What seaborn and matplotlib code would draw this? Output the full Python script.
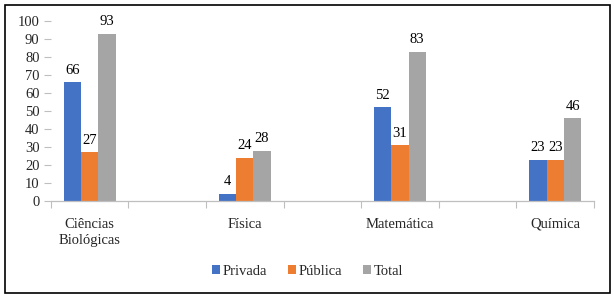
import matplotlib
matplotlib.use("Agg")
import matplotlib.pyplot as plt
import seaborn as sns
import pandas as pd
import numpy as np
from matplotlib.patches import Rectangle

categories = ["Ciências\nBiológicas", "Física", "Matemática", "Química"]
series = ["Privada", "Pública", "Total"]
privada = [66, 4, 52, 23]
publica = [27, 24, 31, 23]
total = [93, 28, 83, 46]
colors = ["#4472C4", "#ED7D31", "#A5A5A5"]

# blank spacer categories between the real ones (as in the original layout)
order = [categories[0], " ", categories[1], "  ", categories[2], "   ", categories[3]]

rows = []
for s, vals in zip(series, [privada, publica, total]):
    for c, v in zip(categories, vals):
        rows.append({"cat": c, "serie": s, "valor": v})
df = pd.DataFrame(rows)

sns.set_theme(style="white")
plt.rcParams["font.family"] = ["Liberation Serif", "DejaVu Serif"]

FS = 10.5

fig = plt.figure(figsize=(6.14, 2.96), dpi=100)
ax = fig.add_axes([50.7 / 614, 1 - 201 / 296, (594 - 50.7) / 614, (201 - 21) / 296])

sns.barplot(data=df, x="cat", y="valor", hue="serie", order=order,
            hue_order=series, palette=colors, width=0.67, gap=0,
            saturation=1, ax=ax, errorbar=None, legend=True, linewidth=0)

for cont in ax.containers:
    ax.bar_label(cont, padding=4, fontsize=FS, color="#000000")

ax.set_ylim(0, 100)
ax.set_yticks(np.arange(0, 101, 10))
ax.set_xlim(-0.5, len(order) - 0.5)
ax.set_xlabel("")
ax.set_ylabel("")

for sp in ["top", "right", "left"]:
    ax.spines[sp].set_visible(False)
ax.spines["bottom"].set_color("#BFBFBF")
ax.spines["bottom"].set_linewidth(0.9)

ax.tick_params(axis="y", which="major", direction="out", length=5, width=0.8,
               color="#BFBFBF", labelsize=FS, pad=3, left=True)
ax.tick_params(axis="x", which="major", length=0, labelsize=FS, pad=12)
ax.set_xticks(np.arange(-0.5, len(order), 1.0), minor=True)
ax.tick_params(axis="x", which="minor", direction="out", length=5, width=0.8,
               color="#BFBFBF", bottom=True)
for lbl in ax.get_xticklabels():
    lbl.set_linespacing(1.3)

leg = ax.legend(loc="upper center", bbox_to_anchor=(0.473, -0.28), ncol=3,
                frameon=False, fontsize=FS, handlelength=0.55, handleheight=0.55,
                handletextpad=0.2, columnspacing=1.4)

fig.add_artist(Rectangle((5 / 614, 1 - 293 / 296), 605 / 614, 288 / 296,
                         transform=fig.transFigure, fill=False,
                         edgecolor="black", linewidth=1.2))

fig.savefig("out.png", dpi=100)
